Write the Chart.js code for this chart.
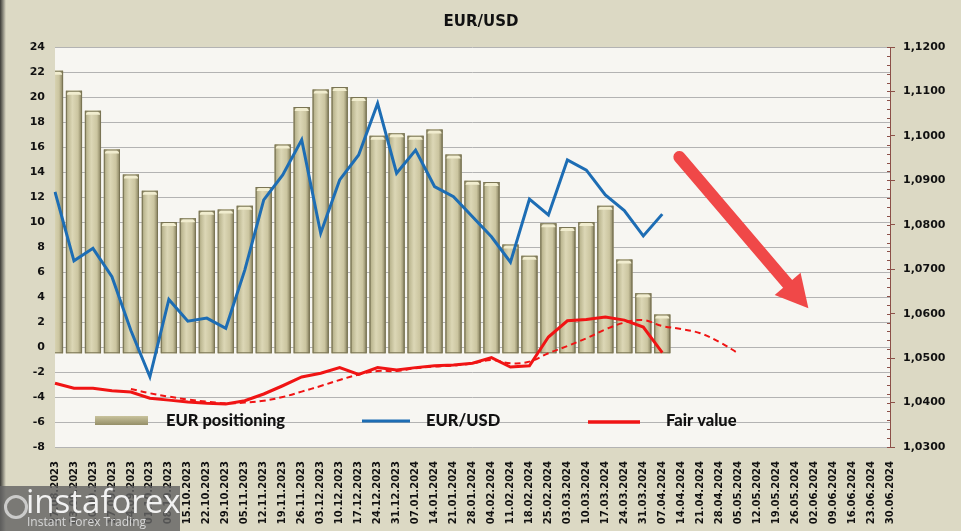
<!DOCTYPE html>
<html>
<head>
<meta charset="utf-8">
<script src="https://cdn.jsdelivr.net/npm/chart.js@4.4.1/dist/chart.umd.min.js"></script>
<style>
html, body { margin: 0; padding: 0; background: #dcd9c4; }
#wrap { position: relative; width: 961px; height: 531px; }
#logo { position: absolute; left: 0; top: 486px; width: 180px; height: 45px; background: rgba(100,100,100,0.82); color: #f2f2f2; font-family: 'Open Sans', sans-serif; overflow: hidden; }
#logo .big { position: absolute; left: 26px; top: -8px; font-size: 33px; letter-spacing: 0px; }
#logo .small { position: absolute; left: 27px; top: 27px; font-size: 12px; color: #d8d8d8; }
#logo .icon { position: absolute; left: 4px; top: 9px; width: 18px; height: 18px; border: 3px solid #e0e0e0; border-radius: 50%; opacity: 0.8; }
</style>
</head>
<body>
<div id="wrap">
  <canvas id="cot-chart" width="961" height="531"></canvas>
  <div id="logo"><div class="icon"></div><div class="big">instaforex</div><div class="small">Instant Forex Trading</div></div>
</div>
<script>
const weeks = ['27.08.2023', '03.09.2023', '10.09.2023', '17.09.2023', '24.09.2023', '01.10.2023', '08.10.2023',
    '15.10.2023', '22.10.2023', '29.10.2023', '05.11.2023', '12.11.2023', '19.11.2023', '26.11.2023',
    '03.12.2023', '10.12.2023', '17.12.2023', '24.12.2023', '31.12.2023', '07.01.2024', '14.01.2024',
    '21.01.2024', '28.01.2024', '04.02.2024', '11.02.2024', '18.02.2024', '25.02.2024', '03.03.2024',
    '10.03.2024', '17.03.2024', '24.03.2024', '31.03.2024', '07.04.2024', '14.04.2024', '21.04.2024',
    '28.04.2024', '05.05.2024', '12.05.2024', '19.05.2024', '26.05.2024', '02.06.2024', '09.06.2024',
    '16.06.2024', '23.06.2024', '30.06.2024'];

// net EUR positioning (left axis)
const eurPositioning = [22.1, 20.5, 18.9, 15.8, 13.8, 12.5, 10.0, 10.3, 10.9, 11.0, 11.3, 12.8, 16.2,
    19.2, 20.6, 20.8, 20.0, 16.9, 17.1, 16.9, 17.4, 15.4, 13.3, 13.2, 8.2, 7.3, 9.9, 9.6, 10.0, 11.3,
    7.0, 4.3, 2.6];

// EUR/USD (right axis)
const eurusd = [1.0874, 1.0719, 1.0747, 1.0683, 1.0562, 1.0458, 1.0632, 1.0583, 1.0590, 1.0567, 1.0698,
    1.0856, 1.0912, 1.0991, 1.0781, 1.0901, 1.0957, 1.1073, 1.0916, 1.0968, 1.0886, 1.0863, 1.0818,
    1.0773, 1.0716, 1.0858, 1.0822, 1.0946, 1.0923, 1.0867, 1.0832, 1.0775, 1.0824];

// fair value (left axis units)
const fairValue = [-2.9, -3.3, -3.3, -3.5, -3.6, -4.1, -4.25, -4.4, -4.5, -4.56, -4.3, -3.76, -3.1,
    -2.4, -2.1, -1.65, -2.2, -1.65, -1.84, -1.65, -1.5, -1.44, -1.3, -0.85, -1.6, -1.5, 0.8, 2.1, 2.2,
    2.4, 2.15, 1.6, -0.45];

// fair value trend (dashed)
const fairTrend = [null, null, null, null, -3.36, -3.7, -3.97, -4.2, -4.37, -4.5, -4.45, -4.3, -4.0,
    -3.57, -3.12, -2.64, -2.2, -1.92, -1.92, -1.7, -1.57, -1.49, -1.31, -1.04, -1.3, -1.17, -0.5, 0.08,
    0.7, 1.4, 1.95, 2.15, 1.68, 1.44, 1.1, 0.4, -0.5];

const leftTicks = { min: -8, max: 24, step: 2 };
const rightTicks = { min: 1.03, max: 1.12, step: 0.01 };
const barBase = -0.5;

// big arrow annotation, in (category index, left value)
const arrowFrom = [32.9, 15.2];
const arrowTo = [39.7, 3.1];

const BG = '#dcd9c4';
const PLOT_BG = '#f7f6f2';
const BLUE = '#1d6db4';
const RED = '#f01414';
const AXIS_RED = '#8c5048';

const decorPlugin = {
    id: 'decor',
    beforeDraw(chart) {
        const c = chart.ctx;
        const a = chart.chartArea;
        c.save();
        c.fillStyle = BG;
        c.fillRect(0, 0, chart.width, chart.height);
        const g = c.createLinearGradient(0, 0, 6, 0);
        g.addColorStop(0, '#3a3a36');
        g.addColorStop(1, BG);
        c.fillStyle = g;
        c.fillRect(0, 0, 6, chart.height);
        c.fillStyle = PLOT_BG;
        c.fillRect(a.left, a.top, a.right - a.left, a.bottom - a.top);
        c.fillStyle = '#111';
        c.font = 'bold 15px "DejaVu Sans"';
        c.textAlign = 'center';
        c.textBaseline = 'middle';
        c.fillText('EUR/USD', 481, 22);
        c.restore();
    },
    afterDatasetDraw(chart, args) {
        if (args.index !== 0) return;
        const c = chart.ctx;
        const a = chart.chartArea;
        c.save();
        c.beginPath();
        c.rect(a.left, a.top, a.right - a.left, a.bottom - a.top);
        c.clip();
        args.meta.data.forEach(el => {
            const w = el.width, l = el.x - w / 2, r = el.x + w / 2;
            const top = el.y, bot = el.base;
            const g = c.createLinearGradient(l, 0, r, 0);
            g.addColorStop(0, '#8a8563');
            g.addColorStop(0.12, '#bdb892');
            g.addColorStop(0.4, '#dcd7b6');
            g.addColorStop(0.75, '#cbc5a0');
            g.addColorStop(0.92, '#9a9471');
            g.addColorStop(1, '#6f6a4c');
            c.fillStyle = g;
            c.fillRect(l, top, w, bot - top);
            // bevelled top cap
            c.fillStyle = '#f1edcf';
            c.beginPath();
            c.moveTo(l, top + 4);
            c.lineTo(l + 4, top);
            c.lineTo(r - 4, top);
            c.lineTo(r, top + 4);
            c.closePath();
            c.fill();
            c.strokeStyle = '#7a7555';
            c.lineWidth = 1;
            c.strokeRect(l + 0.5, top + 0.5, w - 1, bot - top - 1);
        });
        c.restore();
    },
    afterDatasetsDraw(chart) {
        const c = chart.ctx;
        const x = chart.scales.x, y = chart.scales.y, y1 = chart.scales.y1;
        c.save();
        // minor ticks on right axis
        c.strokeStyle = AXIS_RED;
        c.lineWidth = 1;
        for (let v = rightTicks.min; v <= rightTicks.max + 1e-9; v += 0.002) {
            const py = Math.round(y1.getPixelForValue(v)) + 0.5;
            c.beginPath();
            c.moveTo(y1.left - 3, py);
            c.lineTo(y1.left, py);
            c.stroke();
        }
        // arrow
        const x0 = x.getPixelForValue(arrowFrom[0]), yy0 = y.getPixelForValue(arrowFrom[1]);
        const x1 = x.getPixelForValue(arrowTo[0]), yy1 = y.getPixelForValue(arrowTo[1]);
        const ang = Math.atan2(yy1 - yy0, x1 - x0);
        const headLen = 32, headW = 17;
        const bx = x1 - headLen * Math.cos(ang), by = yy1 - headLen * Math.sin(ang);
        c.strokeStyle = '#f04848';
        c.fillStyle = '#f04848';
        c.lineWidth = 12;
        c.lineCap = 'round';
        c.beginPath();
        c.moveTo(x0, yy0);
        c.lineTo(bx, by);
        c.stroke();
        c.beginPath();
        c.moveTo(x1, yy1);
        c.lineTo(bx + headW * Math.sin(ang), by - headW * Math.cos(ang));
        c.lineTo(bx - headW * Math.sin(ang), by + headW * Math.cos(ang));
        c.closePath();
        c.fill();
        // legend
        const ly = 421;
        const lg = c.createLinearGradient(0, ly - 5, 0, ly + 5);
        lg.addColorStop(0, '#c9c39d');
        lg.addColorStop(1, '#8f8962');
        c.fillStyle = lg;
        c.fillRect(95, ly - 5, 53, 9);
        c.lineCap = 'butt';
        c.lineWidth = 3;
        c.strokeStyle = BLUE;
        c.beginPath(); c.moveTo(362, ly); c.lineTo(410, ly); c.stroke();
        c.strokeStyle = RED;
        c.lineWidth = 3.5;
        c.beginPath(); c.moveTo(588, ly + 1); c.lineTo(640, ly + 1); c.stroke();
        c.fillStyle = '#111';
        c.font = '900 16.5px Lato';
        c.textAlign = 'left';
        c.textBaseline = 'middle';
        c.fillText('EUR positioning', 166, ly);
        c.fillText('EUR/USD', 426, ly);
        c.fillText('Fair value', 666, ly);
        c.restore();
    }
};

const ctx = document.getElementById('cot-chart').getContext('2d');

new Chart(ctx, {
    type: 'bar',
    data: {
        labels: weeks,
        datasets: [{
            label: 'EUR positioning',
            data: eurPositioning,
            base: barBase,
            backgroundColor: '#cdc7a3',
            borderWidth: 0,
            barPercentage: 0.85,
            categoryPercentage: 1,
            yAxisID: 'y',
            order: 3
        }, {
            type: 'line',
            label: 'EUR/USD',
            data: eurusd,
            borderColor: BLUE,
            borderWidth: 3,
            pointRadius: 0,
            tension: 0,
            yAxisID: 'y1',
            order: 1
        }, {
            type: 'line',
            label: 'Fair value',
            data: fairValue,
            borderColor: RED,
            borderWidth: 3,
            pointRadius: 0,
            tension: 0,
            yAxisID: 'y',
            order: 2
        }, {
            type: 'line',
            label: 'Fair value trend',
            data: fairTrend,
            borderColor: RED,
            borderWidth: 2,
            borderDash: [6, 4],
            pointRadius: 0,
            tension: 0.4,
            spanGaps: false,
            yAxisID: 'y',
            order: 2
        }]
    },
    options: {
        responsive: false,
        animation: false,
        layout: { padding: { top: 47, left: 0, right: 0, bottom: 0 } },
        scales: {
            x: {
                offset: false,
                grid: { display: false },
                border: { display: false },
                ticks: {
                    autoSkip: false,
                    minRotation: 90,
                    maxRotation: 90,
                    padding: 6,
                    color: '#111',
                    font: { family: 'DejaVu Sans', weight: 'bold', size: 10 }
                },
                afterFit: s => { s.height = 84; }
            },
            y: {
                position: 'left',
                min: leftTicks.min,
                max: leftTicks.max,
                grid: { color: '#b3b3b3', drawTicks: false },
                border: { display: false },
                ticks: {
                    stepSize: leftTicks.step,
                    padding: 10,
                    color: '#111',
                    font: { family: 'DejaVu Sans', weight: 'bold', size: 11 }
                },
                afterFit: s => { s.width = 55; }
            },
            y1: {
                position: 'right',
                min: rightTicks.min,
                max: rightTicks.max,
                grid: { drawOnChartArea: false, color: AXIS_RED, tickLength: 5 },
                border: { color: AXIS_RED, width: 1 },
                ticks: {
                    stepSize: rightTicks.step,
                    padding: 8,
                    color: '#111',
                    font: { family: 'DejaVu Sans', weight: 'bold', size: 11 },
                    callback: v => v.toFixed(4).replace('.', ',')
                },
                afterFit: s => { s.width = 71; }
            }
        },
        plugins: {
            legend: { display: false },
            tooltip: { enabled: false }
        }
    },
    plugins: [decorPlugin]
});
</script>
</body>
</html>
